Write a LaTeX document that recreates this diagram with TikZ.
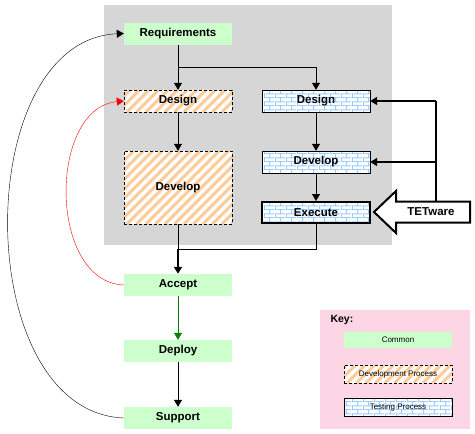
\documentclass[tikz,border=0pt]{standalone}
\usepackage{fontspec}
\setmainfont{Liberation Sans}
\usetikzlibrary{patterns.meta,arrows.meta}
\definecolor{cgreen}{RGB}{204,255,204}
\definecolor{corange}{RGB}{255,204,153}
\definecolor{cblue}{RGB}{153,204,255}
\definecolor{cgray}{RGB}{214,214,214}
\definecolor{cpink}{RGB}{252,214,228}
\definecolor{cdgreen}{RGB}{0,128,0}
\tikzdeclarepattern{
  name=mybricks,
  type=uncolored,
  bounding box={(0,0) and (11pt,8pt)},
  tile size={(11pt,8pt)},
  code={
    \tikzset{line width=1pt}
    \draw (0,0.5pt) -- (11pt,0.5pt);
    \draw (0,4.5pt) -- (11pt,4.5pt);
    \draw (0.5pt,0.5pt) -- (0.5pt,4.5pt);
    \draw (6pt,4.5pt) -- (6pt,8.5pt);
  }
}
\begin{document}
\begin{tikzpicture}[x=1pt,y=-1pt,
  box/.style={minimum width=108pt,minimum height=22pt,inner sep=0pt,
    font=\bfseries\fontsize{11.5}{13}\selectfont},
  common/.style={box,fill=cgreen},
  devp/.style={box,draw,dash pattern=on 3pt off 2pt,fill=white,
    path picture={
      \foreach \i in {-130,-120.5,...,115}
        \draw[corange,line width=3pt,solid]
          ([xshift=\i pt]path picture bounding box.south west) -- ++(120pt,120pt);
    }},
  testp/.style={box,draw,preaction={fill=white},pattern=mybricks,pattern color=cblue},
  arr/.style={-{Triangle[length=7pt,width=8pt]}},
  keyfont/.style={font=\fontsize{8}{9}\selectfont},
]
\useasboundingbox (0,0) rectangle (475,434);
% background areas
\fill[cgray] (104,5) rectangle (392,245);
\fill[cpink] (320,310) rectangle (470,429);

% main nodes
\node[common] (req) at (178,33.5) {Requirements};
\node[devp] (ddesign) at (178,101) {Design};
\node[devp,minimum height=73pt] (ddevelop) at (178,187.5) {Develop};
\node[testp] (tdesign) at (316,101) {Design};
\node[testp] (tdevelop) at (316,162) {Develop};
\node[testp,line width=2pt,minimum height=21pt] (texec) at (316,212.5) {Execute};
\node[common] (accept) at (178,285) {Accept};
\node[common] (deploy) at (178,351) {Deploy};
\node[common] (support) at (178,418) {Support};

% TETware arrow
\draw[line width=2pt,fill=white,line join=miter]
  (374,212) -- (396,191) -- (396,201.5) -- (470,201.5) -- (470,222.5)
  -- (396,222.5) -- (396,233) -- cycle;
\node[font=\bfseries\fontsize{11.5}{13}\selectfont] (tet) at (431,212) {TETware};
\coordinate (tettop) at (436,201.5);
\coordinate (fb1) at (436,101);
\coordinate (fb2) at (436,162);

% connectors
\coordinate (split) at (178,67);
\coordinate (splitr) at (316,67);
\draw[arr] (req.south) -- (ddesign.north);
\draw[arr] (split) -- (splitr) -- (tdesign.north);
\draw[arr] (ddesign.south) -- (ddevelop.north);
\draw[arr] (tdesign.south) -- (tdevelop.north);
\draw[arr] (tdevelop.south) -- (texec.north);
\coordinate (join) at (178,249);
\coordinate (joinr) at (316,249);
\draw (ddevelop.south) -- (join);
\draw (texec.south) -- (joinr) -- (join);
\draw[arr,line width=2pt] (join) -- (accept.north);
\draw[arr,cdgreen] (accept.south) -- (deploy.north);
\draw[arr] (deploy.south) -- (support.north);

\draw[line width=2pt] (tettop) -- (fb1);
\draw[arr,line width=2pt] (fb1) -- (tdesign.east);
\draw[arr,line width=2pt] (fb2) -- (tdevelop.east);

\draw[arr,red] (accept.west) .. controls (48,282) and (48,108) .. (ddesign.west);
\draw[arr] (support.west) .. controls (-30,412) and (-30,40) .. (req.west);

% key
\node[anchor=west,font=\bfseries\fontsize{10.5}{12}\selectfont] (key) at (327,320) {Key:};
\node[common,minimum height=16pt,keyfont] (kcommon) at (398,340) {Common};
\node[devp,minimum height=18pt,keyfont] (kdev) at (398,374) {Development Process};
\node[testp,minimum height=18pt,keyfont] (ktest) at (398,407) {Testing Process};
\end{tikzpicture}
\end{document}
